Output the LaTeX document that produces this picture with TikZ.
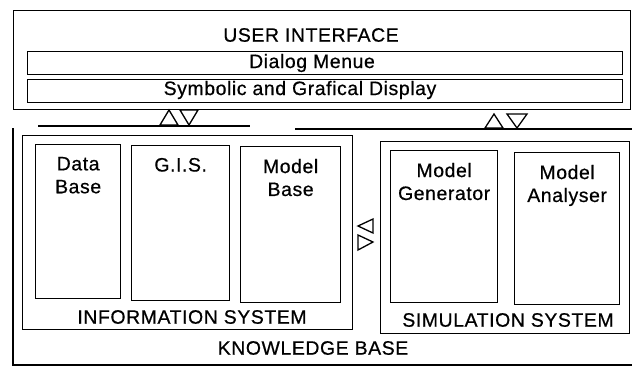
\documentclass[tikz,border=0pt]{standalone}
\usepackage{fontspec}
\setmainfont{Liberation Sans}[LetterSpace=3,FakeBold=0.6]
\begin{document}
\begin{tikzpicture}[x=1bp,y=-1bp,line width=1.3bp,
  font=\fontsize{19.5}{23}\selectfont,
  box/.style={draw,anchor=north west,inner sep=0pt},
  boxlabel/.style={anchor=north,yshift=-9bp,align=center,font=\fontsize{19.5}{23}\selectfont}]
\useasboundingbox (0,0) rectangle (636,368);
% user interface
\node[box,minimum width=617bp,minimum height=99bp] (ui) at (13,10) {};
\node (uititle) at (311,35) {USER INTERFACE};
\node[box,minimum width=595bp,minimum height=23bp] (dialog) at (27,51) {};
\node (dialogtext) at (312,63) {Dialog Menue};
\node[box,minimum width=595bp,minimum height=23bp] (display) at (27,79) {};
\node (displaytext) at (300,90) {Symbolic and Grafical Display};
% interfaces
\draw (160,125) -- (169,110) -- (178,125) -- cycle;
\draw (180,110) -- (198,110) -- (189,125) -- cycle;
\draw (485,128) -- (494,114) -- (503,128) -- cycle;
\draw (507,114) -- (527,114) -- (517,128) -- cycle;
\draw (358,226) -- (373,219) -- (373,233) -- cycle;
\draw (358,235) -- (358,250) -- (373,242) -- cycle;
% knowledge base
\draw (38,126) -- (250,126);
\draw (295,129) -- (632,129);
\draw (13,128) -- (13,365) -- (632,365);
\node (kbtext) at (313,348) {KNOWLEDGE BASE};
% information system
\node[box,minimum width=330bp,minimum height=194bp] (info) at (22,135) {};
\node (infotext) at (192,317) {INFORMATION SYSTEM};
\node[box,minimum width=85bp,minimum height=154bp,label={[boxlabel]north:Data\\Base}] (data) at (35,144) {};
\node[box,minimum width=98bp,minimum height=155bp,label={[boxlabel]north:G.I.S.}] (gis) at (131,145) {};
\node[box,minimum width=100bp,minimum height=156bp,label={[boxlabel]north:Model\\Base}] (modelbase) at (240,146) {};
% simulation system
\node[box,minimum width=249bp,minimum height=192bp] (sim) at (380,141) {};
\node (simtext) at (508,320) {SIMULATION SYSTEM};
\node[box,minimum width=107bp,minimum height=152bp,label={[boxlabel]north:Model\\Generator}] (generator) at (390,150) {};
\node[box,minimum width=105bp,minimum height=152bp,label={[boxlabel]north:Model\\Analyser}] (analyser) at (514,152) {};
\end{tikzpicture}
\end{document}
